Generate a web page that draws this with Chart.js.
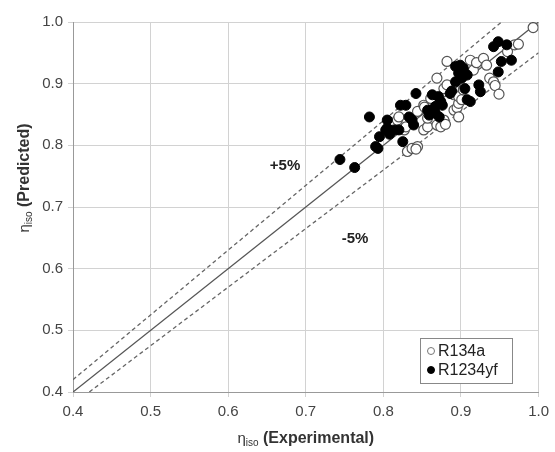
<!DOCTYPE html>
<html>
<head>
<meta charset="utf-8">
<script src="https://cdn.jsdelivr.net/npm/chart.js@4/dist/chart.umd.min.js"></script>
<style>
  html, body { margin: 0; padding: 0; background: #fff; }
  #wrap { width: 555px; height: 452px; }
</style>
</head>
<body>
<div id="wrap"><canvas id="c" width="555" height="452"></canvas></div>
<script>
// Isentropic efficiency: experimental (x) vs predicted (y)
const r134a = [
  [0.818,0.841],[0.820,0.846],[0.827,0.825],[0.829,0.830],[0.831,0.790],[0.837,0.795],
  [0.844,0.798],[0.842,0.794],[0.844,0.855],[0.852,0.865],[0.852,0.825],[0.857,0.830],
  [0.857,0.844],[0.853,0.862],[0.861,0.876],[0.869,0.833],[0.874,0.830],[0.878,0.841],
  [0.880,0.834],[0.869,0.909],[0.878,0.892],[0.882,0.898],[0.882,0.936],[0.891,0.857],
  [0.891,0.882],[0.895,0.861],[0.897,0.868],[0.897,0.879],[0.897,0.846],[0.901,0.874],
  [0.903,0.890],[0.912,0.938],[0.916,0.922],[0.920,0.934],[0.929,0.941],[0.933,0.930],
  [0.937,0.909],[0.942,0.903],[0.944,0.897],[0.949,0.883],[0.960,0.952],[0.969,0.963],
  [0.974,0.964],[0.993,0.991]
];
const r1234yf = [
  [0.744,0.777],[0.763,0.764],[0.782,0.846],[0.790,0.798],[0.793,0.795],[0.795,0.814],
  [0.803,0.825],[0.805,0.841],[0.805,0.828],[0.808,0.818],[0.814,0.825],[0.820,0.825],
  [0.822,0.865],[0.825,0.806],[0.829,0.865],[0.833,0.846],[0.837,0.841],[0.839,0.833],
  [0.842,0.884],[0.857,0.857],[0.859,0.849],[0.861,0.857],[0.863,0.882],[0.867,0.852],
  [0.867,0.863],[0.871,0.879],[0.874,0.871],[0.876,0.865],[0.872,0.846],[0.886,0.884],
  [0.888,0.888],[0.893,0.928],[0.897,0.917],[0.899,0.930],[0.893,0.903],[0.901,0.922],
  [0.903,0.925],[0.901,0.909],[0.905,0.892],[0.908,0.914],[0.908,0.874],[0.912,0.871],
  [0.923,0.898],[0.925,0.887],[0.942,0.960],[0.948,0.968],[0.959,0.963],[0.952,0.936],
  [0.965,0.938],[0.948,0.919]
];
// Reference lines: perfect agreement and a ±5% band
const perfectLine = [[0.4,0.4],[1.0,1.0]];
const plusFive = [[0.4,0.42],[1.0/1.05,1.0]];
const minusFive = [[0.4/0.95,0.4],[1.0,0.95]];
const tickValues = [0.4,0.5,0.6,0.7,0.8,0.9,1.0];

const toXY = arr => arr.map(p => ({x: p[0], y: p[1]}));
const FONT = '"Liberation Sans", Arial, sans-serif';

// Axis titles with a subscript, band labels and an inset legend
const annotations = {
  id: 'annotations',
  afterDraw(chart) {
    const ctx = chart.ctx;
    const xs = chart.scales.x;
    ctx.save();

    function titleParts(label) {
      return [
        {t: '\u03b7', f: '15px ' + FONT, dy: 0},
        {t: 'iso', f: '10px ' + FONT, dy: 4},
        {t: ' ' + label, f: 'bold 16px ' + FONT, dy: 0}
      ];
    }
    function drawParts(parts, cx, cy) {
      let w = 0;
      parts.forEach(p => { ctx.font = p.f; w += ctx.measureText(p.t).width; });
      let x = cx - w / 2;
      ctx.textBaseline = 'middle';
      ctx.textAlign = 'left';
      parts.forEach(p => {
        ctx.font = p.f;
        ctx.fillText(p.t, x, cy + p.dy);
        x += ctx.measureText(p.t).width;
      });
    }
    ctx.fillStyle = '#333';
    drawParts(titleParts('(Experimental)'), (xs.left + xs.right) / 2, 439);
    ctx.save();
    ctx.translate(25, 178);
    ctx.rotate(-Math.PI / 2);
    drawParts(titleParts('(Predicted)'), 0, 0);
    ctx.restore();

    // band labels
    ctx.font = 'bold 15px ' + FONT;
    ctx.fillStyle = '#222';
    ctx.textAlign = 'center';
    ctx.textBaseline = 'middle';
    ctx.fillText('+5%', 285, 166);
    ctx.fillText('-5%', 355, 239);

    // legend box
    const lx = 420, ly = 338, lw = 92, lh = 45;
    ctx.fillStyle = '#fff';
    ctx.fillRect(lx, ly, lw, lh);
    ctx.strokeStyle = '#888';
    ctx.lineWidth = 1;
    ctx.strokeRect(lx + 0.5, ly + 0.5, lw, lh);
    ctx.font = '16px ' + FONT;
    ctx.textAlign = 'left';
    const entries = [
      {label: 'R134a', fill: '#fff', stroke: '#777', y: ly + 13},
      {label: 'R1234yf', fill: '#000', stroke: '#000', y: ly + 32}
    ];
    entries.forEach(e => {
      ctx.beginPath();
      ctx.arc(lx + 11, e.y, 3.5, 0, Math.PI * 2);
      ctx.fillStyle = e.fill;
      ctx.fill();
      ctx.strokeStyle = e.stroke;
      ctx.stroke();
      ctx.fillStyle = '#222';
      ctx.fillText(e.label, lx + 18, e.y + 1);
    });
    ctx.restore();
  }
};

new Chart(document.getElementById('c'), {
  type: 'scatter',
  data: {
    datasets: [
      {
        label: 'R1234yf', data: toXY(r1234yf), order: 1,
        pointRadius: 5, pointBackgroundColor: '#000', pointBorderColor: '#000',
        pointBorderWidth: 1
      },
      {
        label: 'R134a', data: toXY(r134a), order: 2,
        pointRadius: 5, pointBackgroundColor: '#fff', pointBorderColor: '#555',
        pointBorderWidth: 1.2
      },
      {
        label: 'y = x', data: toXY(perfectLine), type: 'line', order: 3,
        showLine: true, borderColor: '#555', borderWidth: 1.3, pointRadius: 0, fill: false
      },
      {
        label: '+5%', data: toXY(plusFive), type: 'line', order: 3,
        showLine: true, borderColor: '#666', borderWidth: 1.3, borderDash: [4, 3],
        pointRadius: 0, fill: false
      },
      {
        label: '-5%', data: toXY(minusFive), type: 'line', order: 3,
        showLine: true, borderColor: '#666', borderWidth: 1.3, borderDash: [4, 3],
        pointRadius: 0, fill: false
      }
    ]
  },
  options: {
    responsive: false,
    animation: false,
    devicePixelRatio: 1,
    layout: { padding: { left: 0, top: 22, right: 13, bottom: 0 } },
    plugins: { legend: { display: false }, tooltip: { enabled: false } },
    scales: {
      x: {
        type: 'linear', min: 0.4, max: 1.0,
        afterBuildTicks: s => { s.ticks = tickValues.map(v => ({value: v})); },
        afterFit: s => { s.height = 60; },
        ticks: {
          color: '#444', font: { family: FONT, size: 15 }, padding: 6,
          maxRotation: 0, autoSkip: false,
          callback: v => v.toFixed(1)
        },
        grid: { color: '#d2d2d2', lineWidth: 1, tickLength: 5 },
        border: { color: '#999' }
      },
      y: {
        type: 'linear', min: 0.4, max: 1.0,
        afterBuildTicks: s => { s.ticks = tickValues.map(v => ({value: v})); },
        afterFit: s => { s.width = 73; },
        ticks: {
          color: '#444', font: { family: FONT, size: 15 }, padding: 5,
          autoSkip: false,
          callback: v => v.toFixed(1)
        },
        grid: { color: '#d2d2d2', lineWidth: 1, tickLength: 5 },
        border: { color: '#999' }
      }
    }
  },
  plugins: [annotations]
});
</script>
</body>
</html>
